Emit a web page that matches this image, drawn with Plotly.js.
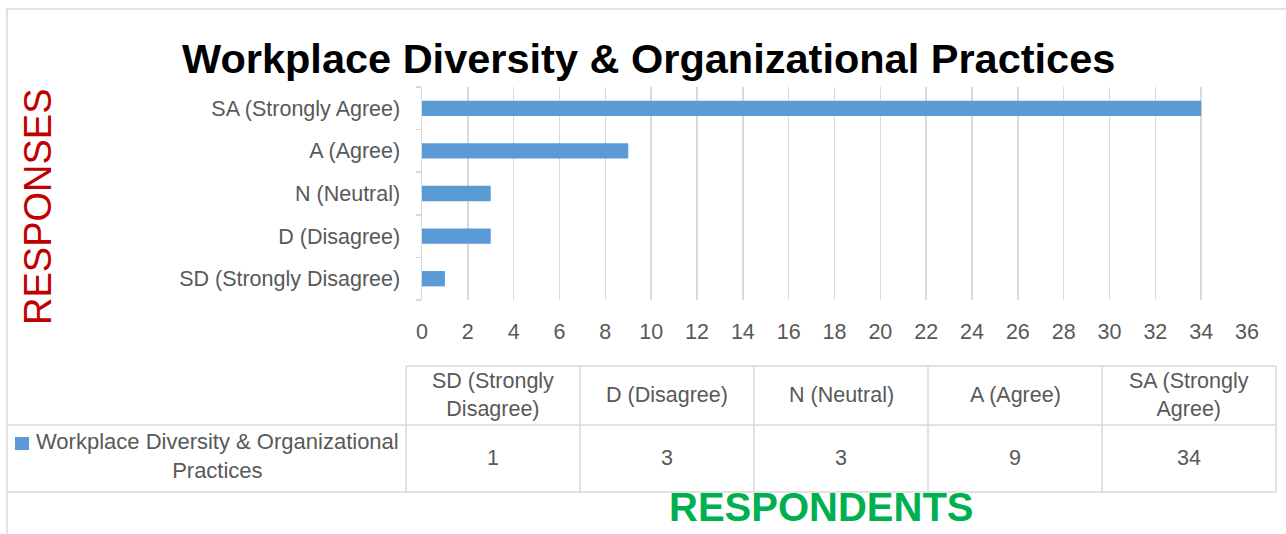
<!DOCTYPE html>
<html>
<head>
<meta charset="utf-8">
<script src="https://cdn.plot.ly/plotly-3.0.1.min.js"></script>
<style>
  html, body { margin: 0; padding: 0; background: #ffffff; }
  #chart { width: 1286px; height: 534px; }
</style>
</head>
<body>
<div id="chart"></div>
<script>
// ---- Data ----
const categories = ['SD (Strongly Disagree)', 'D (Disagree)', 'N (Neutral)', 'A (Agree)', 'SA (Strongly Agree)'];
const values = [1, 3, 3, 9, 34];
const seriesName = 'Workplace Diversity & Organizational Practices';
const tableHeaders = ['SD (Strongly<br>Disagree)', 'D (Disagree)', 'N (Neutral)', 'A (Agree)', 'SA (Strongly<br>Agree)'];
const chartTitle = 'Workplace Diversity & Organizational Practices';
const yTitle = 'RESPONSES';
const xTitle = 'RESPONDENTS';
const xTickValues = [0, 2, 4, 6, 8, 10, 12, 14, 16, 18, 20, 22, 24, 26, 28, 30, 32, 34, 36];

// ---- Layout geometry (pixels) ----
const W = 1286, H = 534;
const L = 422, R = 1247, T = 87, B = 300;
const px = X => (X - L) / (R - L);
const py = Y => (B - Y) / (B - T);

const FONT = 'Liberation Sans, Arial, sans-serif';
const FS = 21.5;
const TEXT = '#595959';
const GRID = '#D9D9D9';
const BAR = '#5B9BD5';

const trace = {
  type: 'bar',
  orientation: 'h',
  y: categories,
  x: values,
  name: seriesName,
  marker: { color: BAR },
  hoverinfo: 'x+y'
};

// table geometry
const colEdges = [406, 580, 754, 928, 1102, 1276];
const rowTop = 366, rowMid = 425, rowBot = 492, tableLeft = 8;

const shapes = [];
function line(x0, y0, x1, y1, color) {
  shapes.push({ type: 'line', xref: 'paper', yref: 'paper',
    x0: px(x0), y0: py(y0), x1: px(x1), y1: py(y1),
    line: { color: color || GRID, width: 1.5 } });
}
// frame
line(6, 9, 1286, 9);
line(7, 9, 7, 534);
// table
line(colEdges[0], rowTop, colEdges[5], rowTop);
line(tableLeft, rowMid, colEdges[5], rowMid);
line(tableLeft, rowBot, colEdges[5], rowBot);
colEdges.forEach(x => line(x, rowTop, x, rowBot));
// legend key square
shapes.push({ type: 'rect', xref: 'paper', yref: 'paper',
  x0: px(15), x1: px(29), y0: py(450), y1: py(437),
  fillcolor: BAR, line: { width: 0 } });

const annotations = [];
function ann(text, X, Y, opts) {
  annotations.push(Object.assign({
    text: text, xref: 'paper', yref: 'paper', x: px(X), y: py(Y),
    xanchor: 'center', yanchor: 'middle', showarrow: false,
    font: { family: FONT, size: FS, color: TEXT }
  }, opts || {}));
}
// table header & values
for (let i = 0; i < 5; i++) {
  const cx = (colEdges[i] + colEdges[i + 1]) / 2;
  ann(tableHeaders[i], cx, 395);
  ann(String(values[i]), cx, 458);
}
ann(seriesName.replace('Organizational ', 'Organizational<br>'), 217, 456, { font: { family: FONT, size: 22, color: TEXT } });
// axis titles
ann(yTitle, 38, 207, { textangle: -90, font: { family: FONT, size: 38, color: '#C00000' } });
ann(xTitle, 821, 507, { font: { family: FONT, size: 40, color: '#00B050', weight: 'bold' } });
// chart title
ann('<b>' + chartTitle + '</b>', 648, 58, { font: { family: FONT, size: 41.5, color: '#000000' } });

const layout = {
  width: W, height: H,
  margin: { l: L, r: W - R, t: T, b: H - B, pad: 0 },
  paper_bgcolor: '#ffffff',
  plot_bgcolor: '#ffffff',
  showlegend: false,
  bargap: 0.64,
  font: { family: FONT, size: FS, color: TEXT },
  xaxis: {
    range: [0, 36],
    tickvals: xTickValues,
    ticktext: xTickValues.map(String),
    showgrid: true, gridcolor: GRID, gridwidth: 1.5,
    zeroline: false, showline: false, ticks: '',
    ticklabelstandoff: 16,
    tickfont: { family: FONT, size: FS, color: TEXT },
    fixedrange: true
  },
  yaxis: {
    type: 'category',
    categoryorder: 'array', categoryarray: categories,
    showgrid: false, zeroline: false,
    showline: true, linecolor: GRID, linewidth: 1.5,
    ticks: 'outside', ticklen: 5, tickcolor: GRID, tickwidth: 1.5,
    tickson: 'boundaries',
    ticklabelstandoff: 16,
    tickfont: { family: FONT, size: FS, color: TEXT },
    fixedrange: true
  },
  shapes: shapes,
  annotations: annotations
};

Plotly.newPlot('chart', [trace], layout, { displayModeBar: false, staticPlot: true });
</script>
</body>
</html>
